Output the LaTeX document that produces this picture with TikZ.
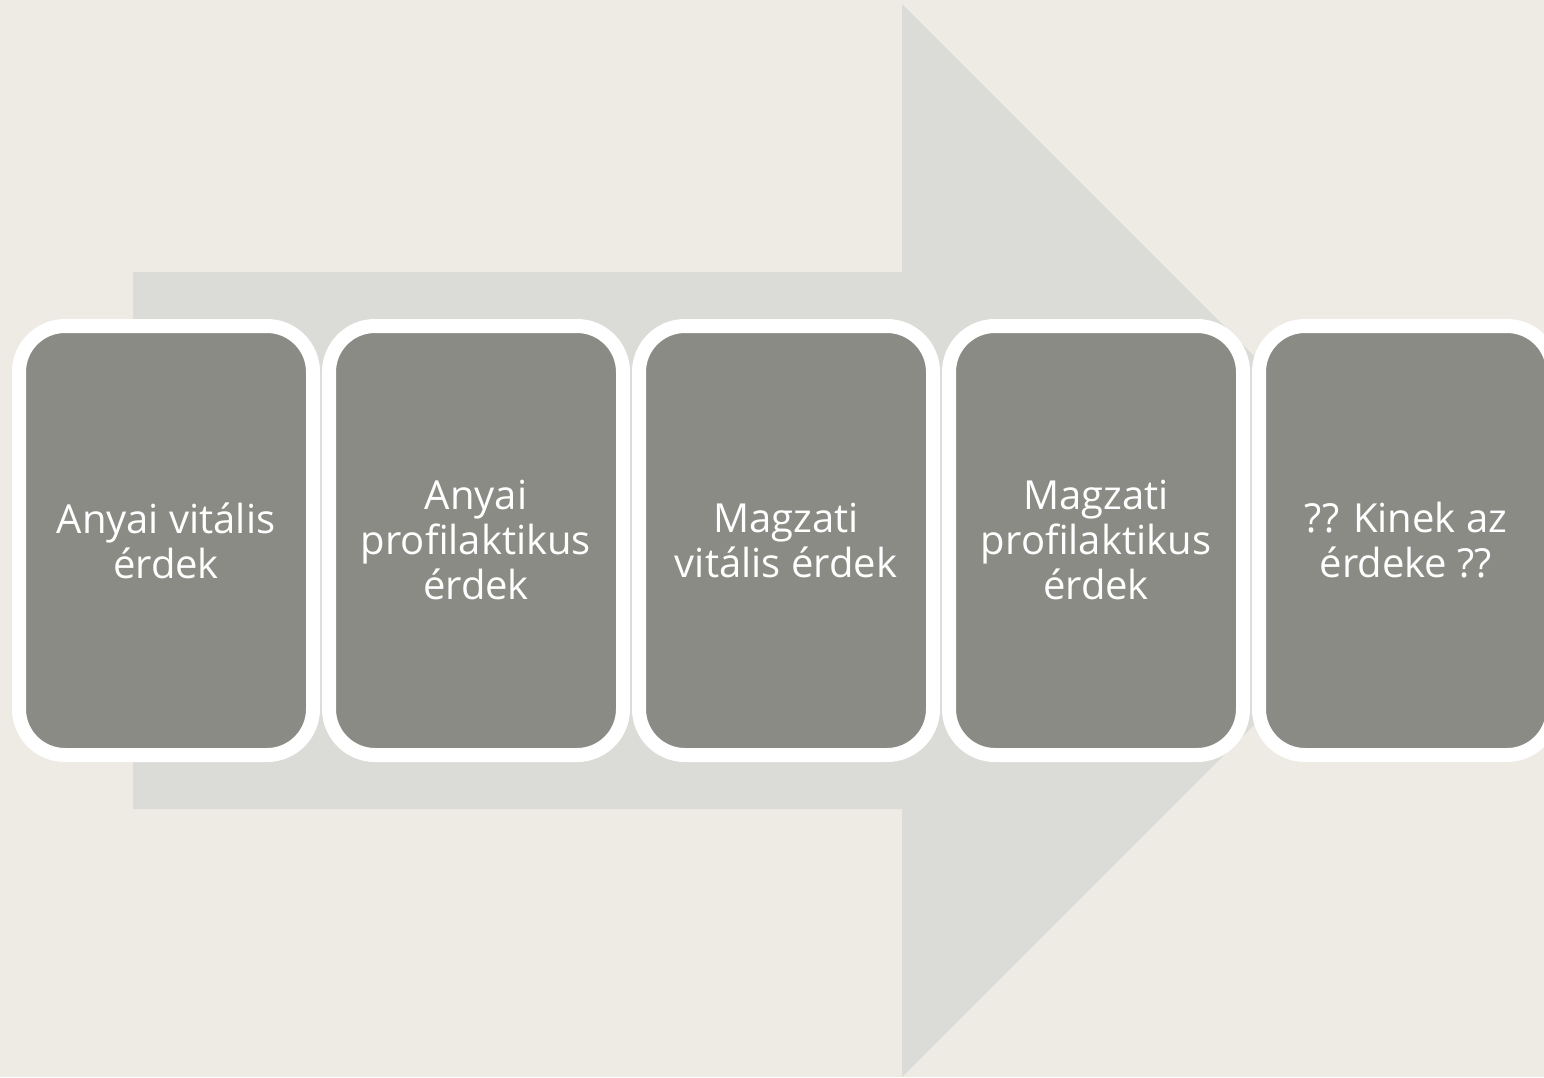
\documentclass[tikz,border=0pt]{standalone}
\usepackage{fontspec}
\setmainfont{Open Sans}
\definecolor{bgcol}{HTML}{EEEBE4}
\definecolor{arrowcol}{HTML}{DBDBD8}
\definecolor{boxcol}{HTML}{8B8B85}
\begin{document}
\begin{tikzpicture}[x=1pt,y=-1pt,
  stagebox/.style={draw=white, line width=14pt, fill=boxcol, rounded corners=46pt,
    minimum width=294pt, minimum height=429pt, inner sep=0pt,
    text=white, align=center, font=\fontsize{40}{45}\selectfont}]
\fill[bgcol] (0,0) rectangle (1544,1077);
\useasboundingbox (0,0) rectangle (1544,1077);
\fill[arrowcol] (133,272) -- (902,272) -- (902,4) -- (1438.5,540.5) -- (902,1077) -- (902,809) -- (133,809) -- cycle;
\node[stagebox] (b1) at (166,540.5) {Anyai vitális\\érdek};
\node[stagebox] (b2) at (476,540.5) {Anyai\\profilaktikus\\érdek};
\node[stagebox] (b3) at (786,540.5) {Magzati\\vitális érdek};
\node[stagebox] (b4) at (1096,540.5) {Magzati\\profilaktikus\\érdek};
\node[stagebox] (b5) at (1406,540.5) {?? Kinek az\\érdeke ??};
\end{tikzpicture}
\end{document}
